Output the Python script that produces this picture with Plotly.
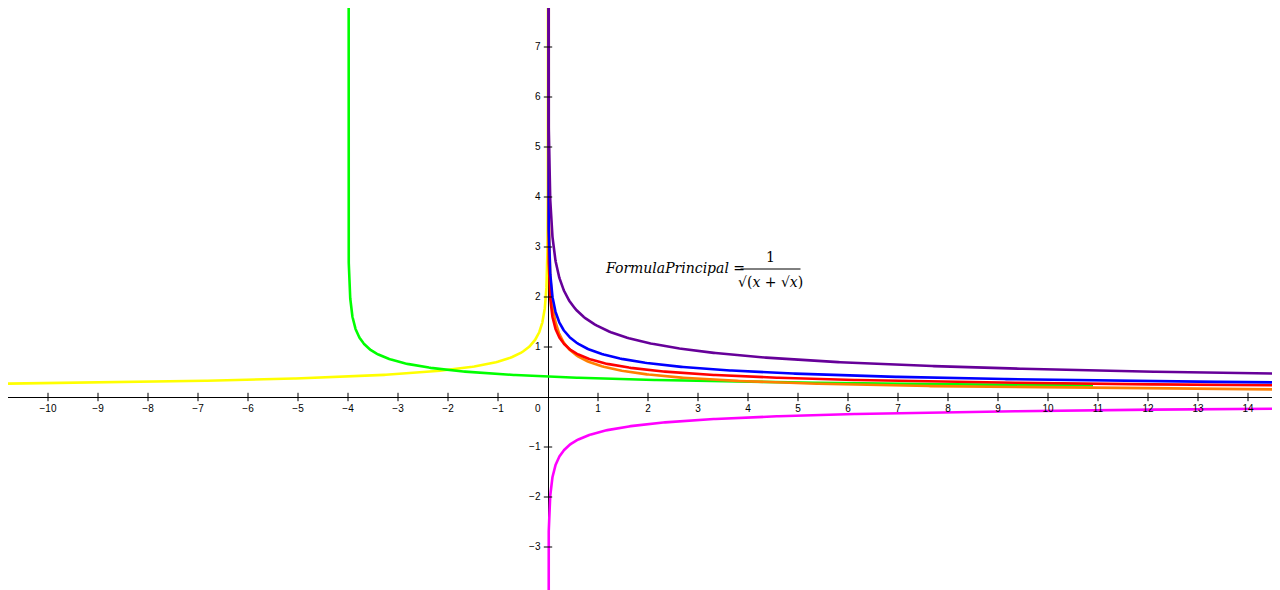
import numpy as np
import plotly.graph_objects as go

# Curve family: base function f(x) = 1/sqrt(x + sqrt(x)) and its transforms
curve_names = ["yellow f(-x)", "green f(x+4)", "orange", "red f(x)", "blue 1.25f(x)", "purple 2f(x)", "magenta -f(x)"]
curve_colors = ["#ffff00", "#00ff00", "#ff7f00", "#ff0000", "#0000ff", "#660099", "#ff00ff"]
x_ticks = [i for i in range(-10, 15) if i != 0]
y_ticks = [j for j in range(-3, 8) if j != 0]

def f(x):
    return 1.0 / np.sqrt(x + np.sqrt(x))

xp = np.concatenate([np.geomspace(1e-7, 0.5, 600), np.linspace(0.5, 14.9, 400)])
xn = -xp[::-1]
xn = xn[xn > -10.9]
xg = -4 + xp
xg = xg[xg < 14.9]

series = [
    (xn, f(-xn)),
    (xg, f(xg + 4)),
    (xp, 1.0 / (xp + np.sqrt(xp)) ** 0.65),
    (xp, f(xp)),
    (xp, 1.25 * f(xp)),
    (xp, 2 * f(xp)),
    (xp, -f(xp)),
]

fig = go.Figure()
for (xs, ys), name, col in zip(series, curve_names, curve_colors):
    fig.add_trace(go.Scatter(x=xs, y=ys, mode="lines", name=name,
                             line=dict(color=col, width=2.6), hoverinfo="skip"))

# tick marks
fig.add_trace(go.Scatter(x=x_ticks, y=[0]*len(x_ticks), mode="markers",
                         marker=dict(symbol="line-ns", size=6, line=dict(width=1, color="black")), hoverinfo="skip"))
fig.add_trace(go.Scatter(x=[0]*len(y_ticks), y=y_ticks, mode="markers",
                         marker=dict(symbol="line-ew", size=6, line=dict(width=1, color="black")), hoverinfo="skip"))
# tick labels
fig.add_trace(go.Scatter(x=x_ticks, y=[-0.25]*len(x_ticks), mode="text",
                         text=[("\u2212" + str(-i)) if i < 0 else str(i) for i in x_ticks],
                         textfont=dict(size=10, family="Arial", color="black"), hoverinfo="skip"))
fig.add_trace(go.Scatter(x=[-0.15]*len(y_ticks), y=y_ticks, mode="text",
                         text=[("\u2212" + str(-j)) if j < 0 else str(j) for j in y_ticks],
                         textfont=dict(size=10, family="Arial", color="black"), textposition="middle left", hoverinfo="skip"))
fig.add_trace(go.Scatter(x=[-0.15], y=[-0.25], mode="text", text=["0"], textposition="middle left",
                         textfont=dict(size=10, family="Arial", color="black"), hoverinfo="skip"))

fig.add_annotation(x=1.1, y=2.58, text="<i>FormulaPrincipal</i> = ", showarrow=False, xanchor="left",
                   font=dict(size=14, family="DejaVu Serif", color="black"))
fig.add_annotation(x=4.45, y=2.8, text="1", showarrow=False, font=dict(size=14, family="DejaVu Serif", color="black"))
fig.add_annotation(x=4.45, y=2.3, text="√(<i>x</i> + √<i>x</i>)", showarrow=False,
                   font=dict(size=14, family="DejaVu Serif", color="black"))
fig.add_shape(type="line", x0=3.85, x1=5.05, y0=2.56, y1=2.56, line=dict(color="black", width=1))

fig.update_layout(
    width=1280, height=590, margin=dict(l=0, r=0, t=0, b=0),
    paper_bgcolor="white", plot_bgcolor="white", showlegend=False,
    xaxis=dict(range=[-10.8, 14.8], showgrid=False, zeroline=True, zerolinecolor="black",
               zerolinewidth=1, showticklabels=False, ticks=""),
    yaxis=dict(range=[-4.02, 7.78], showgrid=False, zeroline=True, zerolinecolor="black",
               zerolinewidth=1, showticklabels=False, ticks=""),
)
fig.write_html("out.html")
